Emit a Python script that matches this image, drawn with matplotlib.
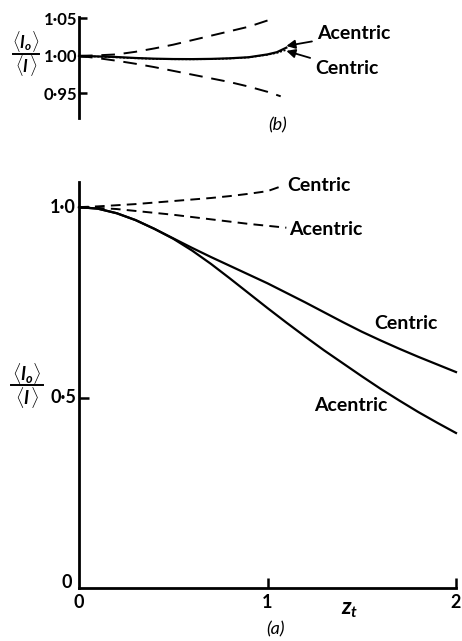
import matplotlib
matplotlib.use("Agg")
import matplotlib.pyplot as plt
from matplotlib.lines import Line2D

plt.rcParams['font.family'] = ['Lato', 'DejaVu Sans']
plt.rcParams['font.weight'] = 'bold'
plt.rcParams['mathtext.fontset'] = 'custom'
plt.rcParams['mathtext.rm'] = 'Lato:bold'
plt.rcParams['mathtext.it'] = 'Lato:italic:bold'
plt.rcParams['mathtext.bf'] = 'Lato:bold'

# ---------------- data: panel (a) ----------------
zt_solid = [0.0, 0.1, 0.2, 0.3, 0.4, 0.5, 0.6, 0.7, 0.8, 0.9, 1.0,
            1.1, 1.2, 1.3, 1.4, 1.5, 1.6, 1.7, 1.8, 1.9, 2.0]
centric_solid = [1.0, 0.996, 0.984, 0.966, 0.943, 0.918, 0.893, 0.869, 0.846, 0.823, 0.800,
                 0.775, 0.750, 0.724, 0.698, 0.673, 0.650, 0.628, 0.607, 0.587, 0.567]
acentric_solid = [1.0, 0.996, 0.984, 0.966, 0.943, 0.917, 0.886, 0.851, 0.813, 0.774, 0.735,
                  0.697, 0.660, 0.624, 0.590, 0.556, 0.523, 0.492, 0.462, 0.434, 0.407]

zt_dash_c = [0.0, 0.1, 0.2, 0.3, 0.4, 0.5, 0.6, 0.7, 0.8, 0.9, 1.0, 1.08]
centric_dash = [1.0, 1.002, 1.005, 1.008, 1.012, 1.016, 1.020, 1.024, 1.029, 1.035, 1.042, 1.056]
zt_dash_a = [0.0, 0.1, 0.2, 0.3, 0.4, 0.5, 0.6, 0.7, 0.8, 0.9, 1.0, 1.1]
acentric_dash = [1.0, 0.998, 0.995, 0.990, 0.985, 0.980, 0.974, 0.968, 0.962, 0.956, 0.951, 0.946]

a_yticklabels = ['0', '0·5', '1·0']
a_xticks = [0, 1, 2]
a_xticklabels = ['0', '1', '2']

# ---------------- data: panel (b) ----------------
zt_b_up = [0.0, 0.1, 0.2, 0.3, 0.4, 0.5, 0.6, 0.7, 0.8, 0.9, 1.02]
b_upper = [1.0, 1.0008, 1.002, 1.0055, 1.010, 1.015, 1.021, 1.027, 1.033, 1.039, 1.049]
zt_b_low = [0.0, 0.1, 0.2, 0.3, 0.4, 0.5, 0.6, 0.7, 0.8, 0.9, 1.0, 1.07]
b_lower = [1.0, 0.997, 0.9935, 0.9895, 0.985, 0.980, 0.975, 0.970, 0.965, 0.959, 0.952, 0.946]
zt_b_mid = [0.0, 0.1, 0.2, 0.3, 0.4, 0.5, 0.6, 0.7, 0.8, 0.9, 1.0, 1.05, 1.1]
b_acentric = [1.0, 0.9993, 0.9985, 0.9972, 0.9963, 0.9958, 0.9957, 0.9960, 0.9968, 0.9982,
              1.0020, 1.0050, 1.0110]
b_centric = [1.0, 0.9990, 0.9980, 0.9968, 0.9960, 0.9955, 0.9954, 0.9957, 0.9965, 0.9980,
             1.0015, 1.0040, 1.0080]

b_yticks = [0.95, 1.00, 1.05]
b_yticklabels = ['0·95', '1·00', '1·05']

W, H = 462, 641
fig = plt.figure(figsize=(W / 100, H / 100), dpi=100)

def fx(px):
    return px / W

def fy(py):
    return 1 - py / H

# ---------------- panel (a) ----------------
axa = fig.add_axes([fx(79), fy(588), fx(456) - fx(79), fy(182) - fy(588)])
axa.set_xlim(0, 2)
axa.set_ylim(0, 1.066)
for s in ['top', 'right']:
    axa.spines[s].set_visible(False)
for s in ['left', 'bottom']:
    axa.spines[s].set_linewidth(2.0)
axa.plot(zt_solid, centric_solid, color='black', lw=1.6, clip_on=False)
axa.plot(zt_solid, acentric_solid, color='black', lw=1.6, clip_on=False)
axa.plot(zt_dash_c, centric_dash, color='black', lw=1.4, ls=(0, (5, 3.2)), clip_on=False)
axa.plot(zt_dash_a, acentric_dash, color='black', lw=1.4, ls=(0, (5, 3.2)), clip_on=False)
axa.set_yticks([0.5, 1.0])
axa.set_yticklabels([])
axa.set_xticks([1, 2])
axa.set_xticklabels([])
axa.tick_params(direction='in', length=7, width=1.8)

axa.text(-0.035, 0.015, a_yticklabels[0], ha='right', va='center', fontsize=13)
axa.text(-0.015, 0.5, a_yticklabels[1], ha='right', va='center', fontsize=13)
axa.text(-0.015, 1.0, a_yticklabels[2], ha='right', va='center', fontsize=13)
for xv, lab in zip(a_xticks, a_xticklabels):
    axa.text(xv, -0.037, lab, ha='center', va='center', fontsize=13)

axa.text(1.105, 1.058, 'Centric', ha='left', va='center', fontsize=14)
axa.text(1.115, 0.940, 'Acentric', ha='left', va='center', fontsize=14)
axa.text(1.735, 0.695, 'Centric', ha='center', va='center', fontsize=14)
axa.text(1.443, 0.480, 'Acentric', ha='center', va='center', fontsize=14)

fig.text(fx(350), fy(609), r'$z_t$', ha='center', va='center', fontsize=16)
fig.text(fx(275), fy(629), '(a)', ha='center', va='center', fontsize=13,
         fontstyle='italic', fontweight='normal')

# fraction label
def frac(cx, cy, hw, fs):
    fig.text(fx(cx), fy(cy - 12), r'$\langle I_o\rangle$', ha='center', va='center', fontsize=fs)
    fig.text(fx(cx), fy(cy + 12), r'$\langle I\,\rangle$', ha='center', va='center', fontsize=fs)
    fig.add_artist(Line2D([fx(cx - hw), fx(cx + hw)], [fy(cy), fy(cy)],
                          color='black', lw=1.4, transform=fig.transFigure))

frac(27, 385, 16, 13)

# ---------------- panel (b) ----------------
axb = fig.add_axes([fx(79), fy(118), fx(456) - fx(79), fy(17) - fy(118)])
axb.set_xlim(0, 2)
axb.set_ylim(0.917, 1.052)
for s in ['top', 'right', 'bottom']:
    axb.spines[s].set_visible(False)
axb.spines['left'].set_linewidth(2.0)
axb.set_xticks([])
axb.set_yticks(b_yticks)
axb.set_yticklabels(b_yticklabels)
axb.tick_params(axis='y', direction='in', length=6, width=1.8, labelsize=12, pad=1)

axb.plot(zt_b_up, b_upper, color='black', lw=1.4, ls=(0, (7, 4.5)), clip_on=False)
axb.plot(zt_b_low, b_lower, color='black', lw=1.4, ls=(0, (7, 4.5)), clip_on=False)
axb.plot(zt_b_mid, b_acentric, color='black', lw=1.6, clip_on=False)
axb.plot(zt_b_mid, b_centric, color='black', lw=1.2, ls=(0, (1.2, 1.0)), clip_on=False)

axb.annotate('Acentric', xy=(1.10, 1.0133), xytext=(1.265, 1.0293),
             ha='left', va='center', fontsize=14,
             arrowprops=dict(arrowstyle='-|>', color='black', lw=1.3,
                             shrinkA=2, shrinkB=0, mutation_scale=13))
axb.annotate('Centric', xy=(1.10, 1.0067), xytext=(1.255, 0.9827),
             ha='left', va='center', fontsize=14,
             arrowprops=dict(arrowstyle='-|>', color='black', lw=1.3,
                             shrinkA=2, shrinkB=0, mutation_scale=13))

fig.text(fx(278), fy(125), '(b)', ha='center', va='center', fontsize=13,
         fontstyle='italic', fontweight='normal')

frac(26, 54, 13, 12)

fig.savefig('out.png', dpi=100, facecolor='white')
